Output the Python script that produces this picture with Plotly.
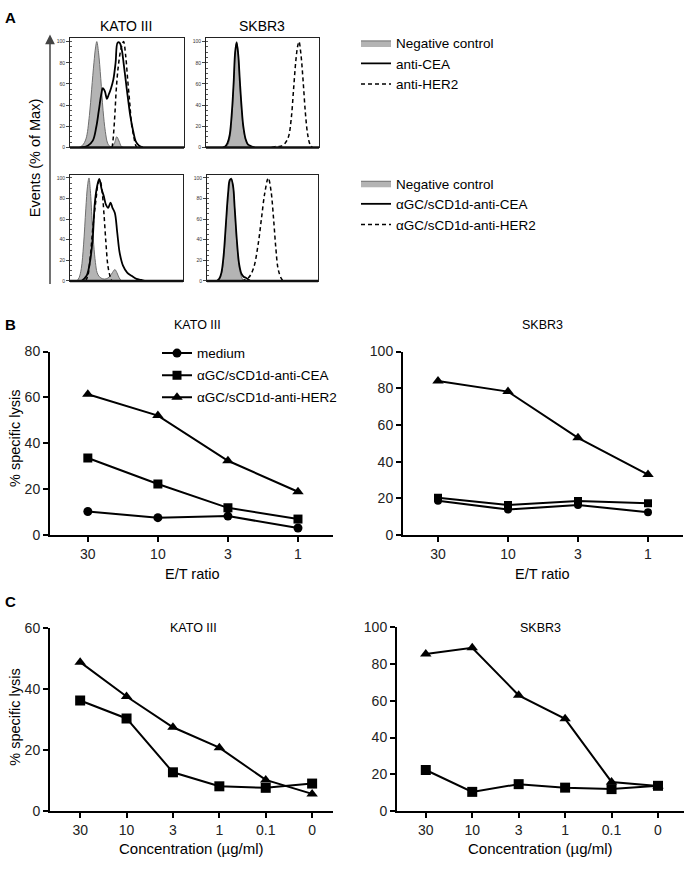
import plotly.graph_objects as go

W, H = 685, 870
FONT = "Arial, 'Liberation Sans', sans-serif"

# ---------------- Panel A: flow cytometry histograms (x: channel 0-100, y: % of max)
kato_top_neg_x = [8, 11, 14, 17, 19, 21, 22.5, 23.5, 25, 27, 29, 31, 33, 35, 37, 39, 41, 43, 45, 47]
kato_top_neg_y = [0, 2, 8, 30, 55, 80, 95, 100, 90, 65, 35, 15, 4, 1, 1, 4, 10, 6, 1, 0]
kato_top_cea_x = [10, 15.6, 20, 23, 25.3, 27.4, 28.8, 30.6, 32.4, 34, 36, 38, 40, 41.8, 43.5, 45.3, 47, 48.8, 51, 53, 55.3, 57.6, 60.6, 64]
kato_top_cea_y = [0, 1.6, 6.4, 19, 35, 50, 56, 53, 46, 50, 56, 64, 80, 99, 99, 93, 80, 64, 45, 29, 16, 6, 1.6, 0]
kato_top_her2_x = [37, 38, 39.4, 40.6, 42.4, 44.7, 47, 48.8, 50.6, 52.4, 54, 56, 57.6, 58.8]
kato_top_her2_y = [0, 10, 32, 55, 77, 93, 100, 87, 64, 42, 22, 10, 2, 0]

skbr_top_neg_x = [17, 19, 21, 23, 24.5, 25.8, 27.1, 28.5, 30, 31.5, 33, 35, 37, 39]
skbr_top_neg_y = [0, 2, 8, 30, 60, 88, 100, 88, 60, 35, 18, 7, 2, 0]
skbr_top_cea_x = [15, 17, 19, 21, 23, 24.5, 25.8, 27.1, 28.5, 30, 31.5, 33, 35, 37, 40, 43]
skbr_top_cea_y = [0, 1, 4, 12, 35, 62, 90, 99, 88, 62, 38, 20, 8, 3, 1, 0]
skbr_top_her2_x = [58, 62, 66, 70, 73, 75.5, 77.5, 79.5, 81, 82.3, 84, 86, 88, 90, 92, 94]
skbr_top_her2_y = [0, 1, 1, 4, 10, 28, 55, 82, 95, 100, 88, 62, 32, 12, 3, 0]

kato_bot_neg_x = [6, 8, 10, 12, 14, 15.5, 16.8, 18, 19.5, 21, 22.5, 24, 26, 29, 32, 35, 37.5, 39.7, 41.5, 43.5, 45.5]
kato_bot_neg_y = [0, 3, 12, 35, 70, 92, 100, 88, 60, 35, 18, 8, 4, 2, 2, 4, 8, 11, 8, 3, 0]
kato_bot_cea_x = [10.3, 14.7, 17.6, 20, 22, 24, 25.9, 28, 30, 31.8, 33.8, 35.9, 37.6, 39.7, 41.8, 44, 47, 50.6, 54.4, 58.8, 63, 66]
kato_bot_cea_y = [0, 5, 18, 40, 76, 92, 99, 89, 82, 74, 71, 76, 71, 66, 47, 27, 14.5, 8, 5, 2, 1, 0]
kato_bot_her2_x = [14, 16, 18, 20.6, 23, 25, 26.5, 28.2, 30, 31.8, 33.5, 35.3, 37]
kato_bot_her2_y = [0, 6, 24, 56, 79, 95, 98, 89, 66, 37, 15, 5, 0]

skbr_bot_neg_x = [10, 12, 14, 16, 18, 20, 21.8, 23.5, 25, 27, 29, 31, 33]
skbr_bot_neg_y = [0, 3, 12, 35, 68, 92, 100, 92, 68, 35, 13, 4, 0]
skbr_bot_cea_x = [9, 11, 13, 15, 17, 19, 20.5, 21.8, 23.5, 25, 27, 29, 31, 33, 35, 37, 39]
skbr_bot_cea_y = [0, 2, 8, 25, 55, 85, 98, 99, 92, 70, 38, 16, 7, 4, 3, 1.5, 0]
skbr_bot_her2_x = [31.3, 37.3, 41.8, 46, 49, 52, 55.2, 57.6, 60, 62, 64, 66.6, 68.4]
skbr_bot_her2_y = [0, 3, 12, 35, 60, 85, 100, 88, 60, 32, 12, 3, 0]

# ---------------- Panel B: % specific lysis vs E/T ratio
et_ratio = ["30", "10", "3", "1"]
b_kato_medium = [10.3, 7.6, 8.3, 3.1]
b_kato_cea = [33.6, 22.3, 11.9, 7.0]
b_kato_her2 = [61.4, 52.1, 32.4, 18.9]
b_skbr_medium = [18.7, 13.9, 16.4, 12.5]
b_skbr_cea = [20.3, 16.4, 18.6, 17.3]
b_skbr_her2 = [83.9, 78.2, 53.0, 33.0]

# ---------------- Panel C: % specific lysis vs concentration
conc = ["30", "10", "3", "1", "0.1", "0"]
c_kato_cea = [36.3, 30.4, 12.7, 8.1, 7.6, 9.0]
c_kato_her2 = [48.9, 37.6, 27.5, 20.8, 10.2, 5.6]
c_skbr_cea = [22.3, 10.4, 14.6, 12.7, 11.9, 13.7]
c_skbr_her2 = [85.5, 88.9, 63.0, 50.2, 15.8, 13.6]

NEG_FILL = "#b4b4b4"
NEG_LINE = "#6e6e6e"
DASH = "4px,3px"


def xd(a, b):
    return [a / W, b / W]


def yd(top, bottom):
    return [1 - bottom / H, 1 - top / H]


def px(x):
    return x / W


def py(y):
    return 1 - y / H


fig = go.Figure()

hist_sets = [
    ("", (kato_top_neg_x, kato_top_neg_y), (kato_top_cea_x, kato_top_cea_y), (kato_top_her2_x, kato_top_her2_y),
     "legend", ["Negative control", "anti-CEA", "anti-HER2"], True),
    ("2", (skbr_top_neg_x, skbr_top_neg_y), (skbr_top_cea_x, skbr_top_cea_y), (skbr_top_her2_x, skbr_top_her2_y),
     "legend", ["Negative control", "anti-CEA", "anti-HER2"], False),
    ("3", (kato_bot_neg_x, kato_bot_neg_y), (kato_bot_cea_x, kato_bot_cea_y), (kato_bot_her2_x, kato_bot_her2_y),
     "legend2", ["Negative control", "\u03b1GC/sCD1d-anti-CEA", "\u03b1GC/sCD1d-anti-HER2"], True),
    ("4", (skbr_bot_neg_x, skbr_bot_neg_y), (skbr_bot_cea_x, skbr_bot_cea_y), (skbr_bot_her2_x, skbr_bot_her2_y),
     "legend2", ["Negative control", "\u03b1GC/sCD1d-anti-CEA", "\u03b1GC/sCD1d-anti-HER2"], False),
]

for sfx, neg, cea, her2, lg, names, show in hist_sets:
    xa, ya = "x" + sfx, "y" + sfx
    fig.add_trace(go.Scatter(x=neg[0], y=neg[1], mode="lines", line=dict(color=NEG_LINE, width=1, shape="spline"),
                             fill="tozeroy", fillcolor=NEG_FILL, name=names[0], legend=lg, showlegend=show,
                             xaxis=xa, yaxis=ya))
    fig.add_trace(go.Scatter(x=cea[0], y=cea[1], mode="lines", line=dict(color="black", width=1.8, shape="spline"),
                             name=names[1], legend=lg, showlegend=show, xaxis=xa, yaxis=ya))
    fig.add_trace(go.Scatter(x=her2[0], y=her2[1], mode="lines",
                             line=dict(color="black", width=1.5, dash=DASH, shape="spline"),
                             name=names[2], legend=lg, showlegend=show, xaxis=xa, yaxis=ya))

line_sets = [
    ("5", et_ratio, [("medium", b_kato_medium, "circle", 9), ("\u03b1GC/sCD1d-anti-CEA", b_kato_cea, "square", 9),
                     ("\u03b1GC/sCD1d-anti-HER2", b_kato_her2, "triangle-up", 10)], True),
    ("6", et_ratio, [("medium", b_skbr_medium, "circle", 8), ("\u03b1GC/sCD1d-anti-CEA", b_skbr_cea, "square", 8),
                     ("\u03b1GC/sCD1d-anti-HER2", b_skbr_her2, "triangle-up", 10)], False),
    ("7", conc, [("\u03b1GC/sCD1d-anti-CEA", c_kato_cea, "square", 10),
                 ("\u03b1GC/sCD1d-anti-HER2", c_kato_her2, "triangle-up", 10)], False),
    ("8", conc, [("\u03b1GC/sCD1d-anti-CEA", c_skbr_cea, "square", 10),
                 ("\u03b1GC/sCD1d-anti-HER2", c_skbr_her2, "triangle-up", 10)], False),
]
for sfx, cats, series, show in line_sets:
    for name, vals, sym, size in series:
        fig.add_trace(go.Scatter(x=cats, y=vals, mode="lines+markers", name=name,
                                 line=dict(color="black", width=2),
                                 marker=dict(symbol=sym, size=size, color="black"),
                                 legend="legend3", legendgroup=name + sfx, showlegend=show,
                                 xaxis="x" + sfx, yaxis="y" + sfx))

layout = dict(
    width=W, height=H, margin=dict(l=0, r=0, t=0, b=0),
    paper_bgcolor="white", plot_bgcolor="white",
    font=dict(family=FONT, color="black", size=12),
    showlegend=True,
)

hist_dom = {"": (xd(70, 184), yd(31, 142)), "2": (xd(206, 319), yd(31, 142)),
            "3": (xd(70, 183), yd(170, 278)), "4": (xd(207, 318), yd(170, 278))}
for k, (xdom, ydom) in hist_dom.items():
    layout["xaxis" + k] = dict(domain=xdom, range=[0, 100], showgrid=False, zeroline=False,
                               showline=True, mirror=True, linecolor="#222", linewidth=1,
                               showticklabels=False, ticks="", anchor="y" + k)
    layout["yaxis" + k] = dict(domain=ydom, range=[0, 103], showgrid=False, zeroline=False,
                               showline=True, mirror=True, linecolor="#222", linewidth=1,
                               tickvals=[0, 20, 40, 60, 80, 100], ticks="outside", ticklen=3, tickwidth=1,
                               tickfont=dict(size=5, color="#333"),
                               minor=dict(ticks="inside", ticklen=2, dtick=5, tickcolor="#555"),
                               anchor="x" + k)


def line_axes(k, xdom, ydom, xr, yr, ytick):
    layout["xaxis" + k] = dict(domain=xdom, type="category", range=xr, showgrid=False, zeroline=False,
                               showline=True, linecolor="black", linewidth=2,
                               ticks="outside", ticklen=5, tickwidth=2, tickcolor="black",
                               tickfont=dict(size=14, color="#222"), anchor="y" + k)
    layout["yaxis" + k] = dict(domain=ydom, range=yr, showgrid=False, zeroline=False,
                               showline=True, linecolor="black", linewidth=2, dtick=ytick,
                               ticks="outside", ticklen=5, tickwidth=2, tickcolor="black",
                               tickfont=dict(size=14, color="#222"), anchor="x" + k)


line_axes("5", xd(50, 333), yd(350, 537), [-0.54, 3.5], [0, 80], 20)
line_axes("6", xd(403, 683), yd(350, 537), [-0.5, 3.5], [0, 100], 20)
line_axes("7", xd(50, 333), yd(632, 818), [-0.65, 5.45], [0, 60], 20)
line_axes("8", xd(397, 684), yd(631, 818), [-0.62, 5.56], [0, 100], 20)

layout["legend"] = dict(x=px(356), y=py(20), xanchor="left", yanchor="top", font=dict(size=13.5),
                        bgcolor="rgba(0,0,0,0)", itemwidth=30, tracegroupgap=0)
layout["legend2"] = dict(x=px(356), y=py(163), xanchor="left", yanchor="top", font=dict(size=13.5),
                         bgcolor="rgba(0,0,0,0)", itemwidth=30, tracegroupgap=0)
layout["legend3"] = dict(x=px(157), y=py(336), xanchor="left", yanchor="top", font=dict(size=13.5),
                         bgcolor="rgba(0,0,0,0)", itemwidth=30, tracegroupgap=1.5)


def ann(text, x, y, size=12, bold=False, angle=0, xanchor="center"):
    return dict(text=("<b>%s</b>" % text) if bold else text, x=px(x), y=py(y), xref="paper", yref="paper",
                showarrow=False, font=dict(size=size, color="black", family=FONT), textangle=angle,
                xanchor=xanchor, yanchor="middle")


annotations = [
    ann("A", 3, 10, 15, True, xanchor="left"),
    ann("B", 3, 322, 15, True, xanchor="left"),
    ann("C", 3, 605, 15, True, xanchor="left"),
    ann("KATO III", 126, 18, 14),
    ann("SKBR3", 262, 18, 14),
    ann("Events (% of Max)", 35, 153, 14.5, angle=-90),
    ann("KATO III", 197, 323, 12.5),
    ann("SKBR3", 542, 323, 12.5),
    ann("E/T ratio", 192, 577, 14.5),
    ann("E/T ratio", 542, 577, 14.5),
    ann("% specific lysis", 15, 438, 14.5, angle=-90),
    ann("% specific lysis", 15, 722, 14.5, angle=-90),
    ann("KATO III", 193, 632, 12.5),
    ann("SKBR3", 540, 632, 12.5),
    ann("Concentration (\u00b5g/ml)", 191, 856, 15),
    ann("Concentration (\u00b5g/ml)", 540, 856, 15),
    dict(text="", x=px(50), y=py(27), xref="paper", yref="paper", showarrow=True, ax=0, ay=251,
         axref="pixel", ayref="pixel", arrowhead=2, arrowsize=1.3, arrowwidth=1.5, arrowcolor="#444"),
]
layout["annotations"] = annotations

shapes = []
for k in ["", "2", "3", "4"]:
    shapes.append(dict(type="line", xref="x%s domain" % k, yref="y%s domain" % k, x0=0, x1=1, y0=0, y1=0,
                       line=dict(color="#111", width=2.5)))
layout["shapes"] = shapes

fig.update_layout(**layout)
fig.write_html("out.html", config={"displayModeBar": False},
               post_script="document.body.style.margin='0';")
